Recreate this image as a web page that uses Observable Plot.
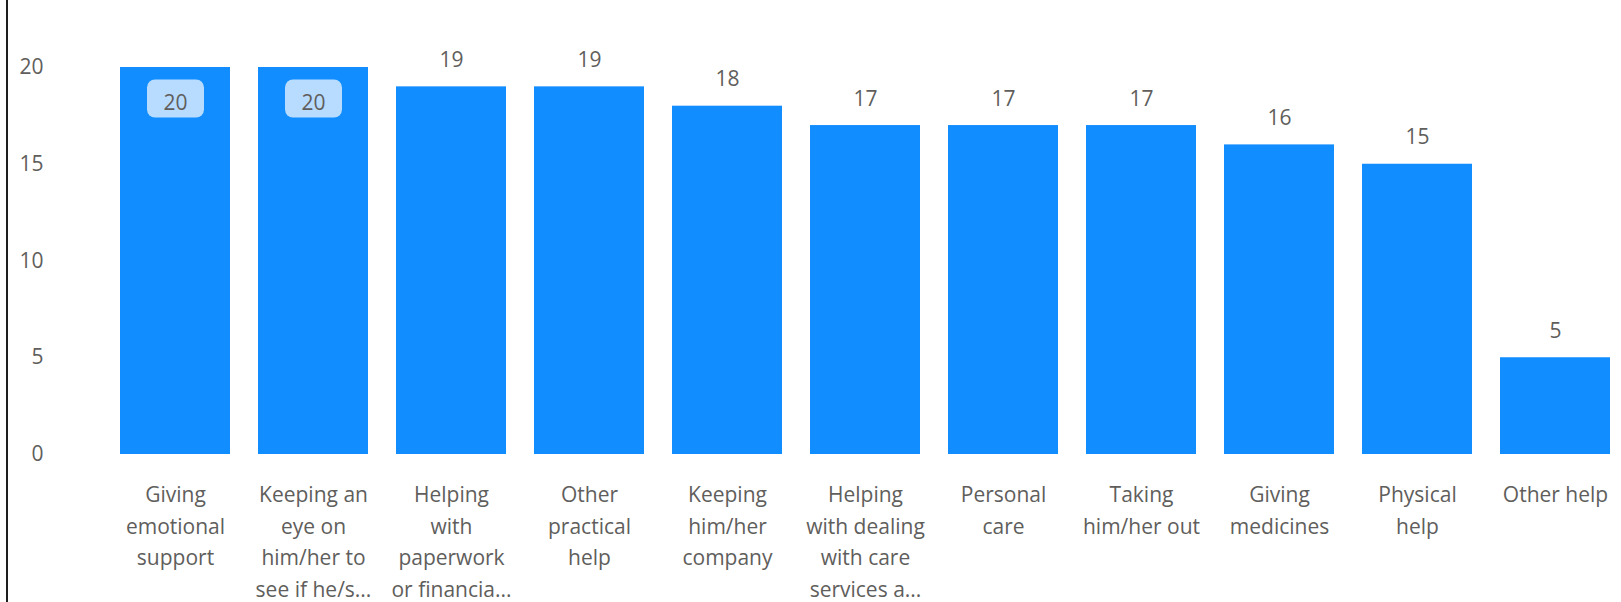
<!DOCTYPE html>
<html>
<head>
<meta charset="utf-8">
<script src="https://cdn.jsdelivr.net/npm/d3@7"></script>
<script src="https://cdn.jsdelivr.net/npm/@observablehq/plot@0.6"></script>
<style>
  html, body { margin: 0; padding: 0; background: #fff; }
  #wrap { position: relative; width: 1621px; height: 602px; overflow: hidden; }
  #edge { position: absolute; left: 6px; top: 0; width: 2px; height: 602px; background: #1e1e1e; }
</style>
</head>
<body>
<div id="wrap"><div id="edge"></div></div>
<script>
const categories = [
  "Giving emotional support",
  "Keeping an eye on him/her to see if he/she is all right",
  "Helping with paperwork or financial matters",
  "Other practical help",
  "Keeping him/her company",
  "Helping with dealing with care services and benefits",
  "Personal care",
  "Taking him/her out",
  "Giving medicines",
  "Physical help",
  "Other help"
];
const tickLabels = [
  "Giving\nemotional\nsupport",
  "Keeping an\neye on\nhim/her to\nsee if he/s...",
  "Helping\nwith\npaperwork\nor financia...",
  "Other\npractical\nhelp",
  "Keeping\nhim/her\ncompany",
  "Helping\nwith dealing\nwith care\nservices a...",
  "Personal\ncare",
  "Taking\nhim/her out",
  "Giving\nmedicines",
  "Physical\nhelp",
  "Other help"
];
const values = [20, 20, 19, 19, 18, 17, 17, 17, 16, 15, 5];
const yTicks = [0, 5, 10, 15, 20];

const data = categories.map((c, i) => ({cat: c, label: tickLabels[i], value: values[i]}));
const maxV = d3.max(values);
const inside = data.filter(d => d.value >= maxV);
const outside = data.filter(d => d.value < maxV);

const FONT = "'Open Sans', 'Noto Sans', sans-serif";
const GREY = "#605E5C";

// rounded-rect symbol for inside label background
const roundRect = {
  draw(ctx) {
    const w = 57, h = 38, r = 8, x = -w / 2, y = -h / 2;
    ctx.moveTo(x + r, y);
    ctx.lineTo(x + w - r, y);
    ctx.arcTo(x + w, y, x + w, y + r, r);
    ctx.lineTo(x + w, y + h - r);
    ctx.arcTo(x + w, y + h, x + w - r, y + h, r);
    ctx.lineTo(x + r, y + h);
    ctx.arcTo(x, y + h, x, y + h - r, r);
    ctx.lineTo(x, y + r);
    ctx.arcTo(x, y, x + r, y, r);
    ctx.closePath();
  }
};

const chart = Plot.plot({
  width: 1621,
  height: 602,
  marginLeft: 118,
  marginRight: 8,
  marginTop: 67,
  marginBottom: 148,
  style: {fontFamily: FONT, fontSize: "21px", color: GREY, background: "transparent", overflow: "visible"},
  x: {domain: categories, paddingInner: 0.2, paddingOuter: 0, axis: null},
  y: {domain: [0, 20], axis: null},
  marks: [
    Plot.barY(data, {x: "cat", y: "value", fill: "#118DFF"}),
    Plot.axisY(yTicks, {tickSize: 0, tickPadding: 75, fontSize: 21, fill: GREY, label: null}),
    Plot.text(outside, {x: "cat", y: "value", text: d => String(d.value), lineAnchor: "bottom", dy: -20, fontSize: 21, fill: GREY}),
    Plot.dot(inside, {x: "cat", y: "value", symbol: roundRect, r: 10, dy: 31, fill: "#B8DCFF", stroke: "none"}),
    Plot.text(inside, {x: "cat", y: "value", text: d => String(d.value), lineAnchor: "bottom", dy: 42, fontSize: 21, fill: GREY}),
    Plot.text(data, {x: "cat", y: () => 0, text: "label", lineAnchor: "top", lineHeight: 1.5, dy: 25.6, fontSize: 21, fill: GREY})
  ]
});
document.getElementById("wrap").appendChild(chart);
</script>
</body>
</html>
